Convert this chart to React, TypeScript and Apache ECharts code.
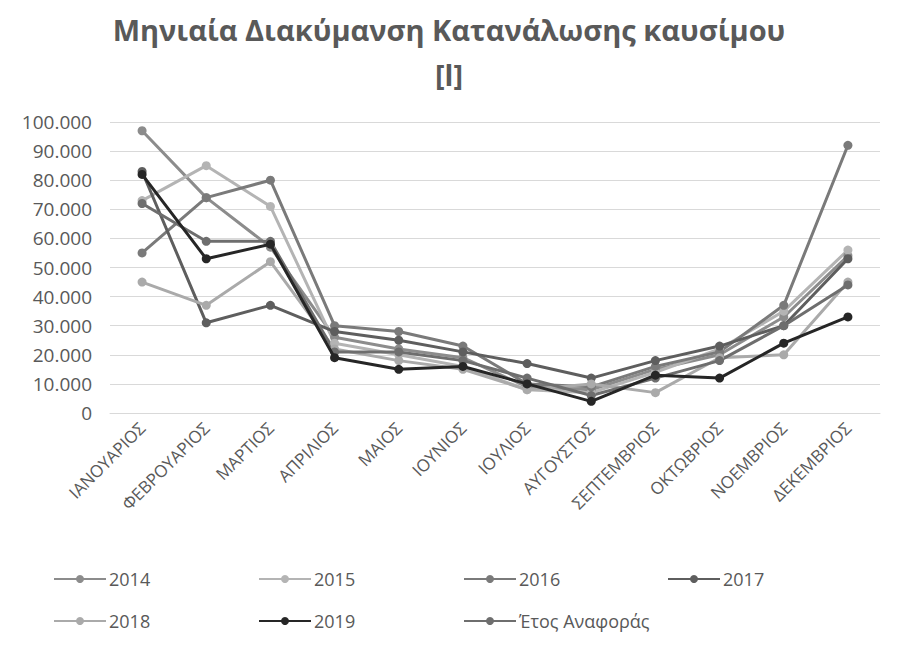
import React, { useEffect, useRef } from "react";
import * as echarts from "echarts";

const months = ["ΙΑΝΟΥΑΡΙΟΣ", "ΦΕΒΡΟΥΑΡΙΟΣ", "ΜΑΡΤΙΟΣ", "ΑΠΡΙΛΙΟΣ", "ΜΑΙΟΣ", "ΙΟΥΝΙΟΣ", "ΙΟΥΛΙΟΣ", "ΑΥΓΟΥΣΤΟΣ", "ΣΕΠΤΕΜΒΡΙΟΣ", "ΟΚΤΩΒΡΙΟΣ", "ΝΟΕΜΒΡΙΟΣ", "ΔΕΚΕΜΒΡΙΟΣ"];

const y2014 = [97000, 74000, 57000, 26000, 22000, 19000, 9000, 8000, 15000, 20000, 33000, 54000];
const y2015 = [73000, 85000, 71000, 24000, 20000, 16000, 8000, 7000, 14000, 22000, 35000, 56000];
const y2016 = [55000, 74000, 80000, 30000, 28000, 23000, 10000, 9000, 16000, 21000, 37000, 92000];
const y2017 = [83000, 31000, 37000, 28000, 25000, 21000, 17000, 12000, 18000, 23000, 30000, 53000];
const y2018 = [45000, 37000, 52000, 22000, 18000, 15000, 8000, 10000, 7000, 19000, 20000, 45000];
const y2019 = [82000, 53000, 58000, 19000, 15000, 16000, 10000, 4000, 13000, 12000, 24000, 33000];
const yRef = [72000, 59000, 59000, 21000, 21000, 18000, 12000, 6000, 12000, 18000, 30000, 44000];

const seriesNames = ["2014", "2015", "2016", "2017", "2018", "2019", "Έτος Αναφοράς"];
const seriesData = [y2014, y2015, y2016, y2017, y2018, y2019, yRef];
const seriesColors = ["#8c8c8c", "#b4b4b4", "#7a7a7a", "#5e5e5e", "#aaaaaa", "#262626", "#6e6e6e"];

const legendPos = [
  [53, 570], [258, 570], [463, 570], [667, 570],
  [53, 612], [258, 612], [463, 612],
];

const fmt = (v: number) => {
  if (v === 0) return "0";
  const s = String(v);
  return s.replace(/\B(?=(\d{3})+(?!\d))/g, ".");
};

export default function App() {
  const ref = useRef<HTMLDivElement>(null);
  useEffect(() => {
    if (!ref.current) return;
    const chart = echarts.init(ref.current, null, { renderer: "svg" });
    const font = "'Open Sans', 'Noto Sans', sans-serif";
    chart.setOption({
      animation: false,
      backgroundColor: "#ffffff",
      title: {
        text: "Μηνιαία Διακύμανση Κατανάλωσης καυσίμου\n[l]",
        left: "center",
        top: 2,
        textStyle: {
          fontFamily: font,
          fontSize: 29,
          fontWeight: "bold",
          color: "#595959",
          lineHeight: 45,
        },
      },
      legend: seriesNames.map((n, i) => ({
        data: [n],
        left: legendPos[i][0],
        top: legendPos[i][1],
        itemWidth: 52,
        itemHeight: 10,
        padding: 0,
        textStyle: { fontFamily: font, fontSize: 18, color: "#595959", padding: [0, 0, 0, -2] },
      })),
      grid: { left: 110, right: 18, top: 122, bottom: 237, containLabel: false },
      xAxis: {
        type: "category",
        data: months,
        boundaryGap: true,
        axisLine: { lineStyle: { color: "#d9d9d9" } },
        axisTick: { show: false },
        axisLabel: {
          rotate: 45,
          interval: 0,
          fontFamily: font,
          fontSize: 17,
          color: "#595959",
          margin: 12,
        },
      },
      yAxis: {
        type: "value",
        min: 0,
        max: 100000,
        interval: 10000,
        axisLine: { show: false },
        axisTick: { show: false },
        splitLine: { lineStyle: { color: "#d9d9d9", width: 1 } },
        axisLabel: {
          formatter: (v: number) => fmt(v),
          fontFamily: font,
          fontSize: 19,
          color: "#595959",
          margin: 18,
        },
      },
      series: seriesNames.map((n, i) => ({
        name: n,
        type: "line",
        data: seriesData[i],
        symbol: "circle",
        symbolSize: 9,
        color: seriesColors[i],
        lineStyle: { width: 3, color: seriesColors[i] },
        itemStyle: { color: seriesColors[i] },
        z: i === 5 ? 10 : 2,
      })),
    });
    return () => chart.dispose();
  }, []);
  return <div ref={ref} style={{ width: 898, height: 650, position: "absolute", left: 0, top: 0 }} />;
}
